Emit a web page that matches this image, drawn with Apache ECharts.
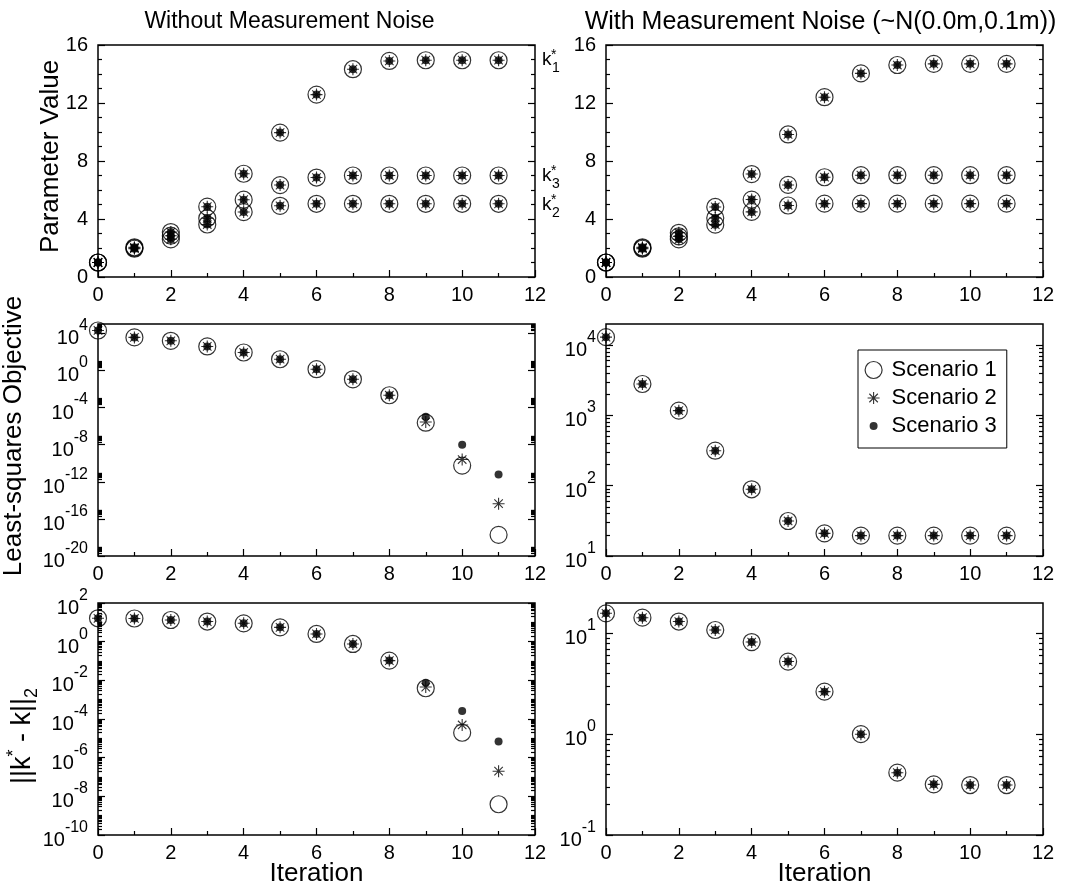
<!DOCTYPE html>
<html>
<head>
<meta charset="utf-8">
<script src="https://cdn.jsdelivr.net/npm/echarts@6/dist/echarts.min.js"></script>
<style>html,body{margin:0;padding:0;background:#fff}#main{width:1066px;height:886px}</style>
</head>
<body>
<div id="main"></div>
<script>
// ---------------- data ----------------
const iterations = [0, 1, 2, 3, 4, 5, 6, 7, 8, 9, 10, 11];
const scenarioNames = ['Scenario 1', 'Scenario 2', 'Scenario 3'];
const panelTitles = ['Without Measurement Noise', 'With Measurement Noise (~N(0.0m,0.1m))'];

// Parameter values (all scenarios overlap)
const k1Clean = [1.0, 2.05, 3.1, 4.85, 7.12, 9.96, 12.58, 14.33, 14.9, 14.95, 14.95, 14.95];
const k2Clean = [1.0, 1.95, 2.6, 3.62, 4.48, 4.91, 5.05, 5.05, 5.05, 5.05, 5.05, 5.05];
const k3Clean = [1.0, 2.0, 2.85, 4.05, 5.33, 6.34, 6.86, 7.0, 7.0, 7.0, 7.0, 7.0];
const k1Noisy = [1.0, 2.05, 3.05, 4.83, 7.1, 9.83, 12.4, 14.04, 14.62, 14.7, 14.7, 14.7];
const k2Noisy = [1.0, 1.95, 2.6, 3.61, 4.49, 4.93, 5.06, 5.06, 5.06, 5.06, 5.06, 5.06];
const k3Noisy = [1.0, 2.0, 2.8, 4.07, 5.34, 6.35, 6.88, 7.02, 7.02, 7.02, 7.02, 7.02];
const trueParams = [{sub: '1', value: 15}, {sub: '3', value: 7}, {sub: '2', value: 5}];

// Least-squares objective
const objCleanS1 = [2.0e4, 3.6e3, 1.55e3, 380, 85, 16, 1.35, 0.11, 2.1e-3, 2.3e-6, 5.5e-11, 1.9e-18];
const objCleanS2 = [2.0e4, 3.6e3, 1.55e3, 380, 85, 16, 1.35, 0.11, 2.1e-3, 2.8e-6, 2.5e-10, 4.3e-15];
const objCleanS3 = [2.0e4, 3.6e3, 1.55e3, 380, 85, 16, 1.35, 0.11, 2.1e-3, 1.0e-5, 1.0e-8, 5.9e-12];
const objNoisy = [1.3e4, 2.8e3, 1.17e3, 315, 89, 31.5, 21, 19.5, 19.5, 19.5, 19.5, 19.5];

// ||k* - k||_2
const errCleanS1 = [16.2, 15.8, 13.2, 11.0, 8.9, 5.5, 2.5, 0.76, 0.105, 3.9e-3, 1.95e-5, 3.9e-9];
const errCleanS2 = [16.2, 15.8, 13.2, 11.0, 8.9, 5.5, 2.5, 0.76, 0.105, 4.5e-3, 4.9e-5, 2.0e-7];
const errCleanS3 = [16.2, 15.8, 13.2, 11.0, 8.9, 5.5, 2.5, 0.76, 0.105, 7.6e-3, 2.6e-4, 6.8e-6];
const errNoisy = [15.8, 14.3, 13.1, 10.8, 8.2, 5.25, 2.64, 1.0, 0.415, 0.318, 0.313, 0.313];

// axis ticks
const iterTicks = [0, 2, 4, 6, 8, 10, 12];
const paramTicks = [0, 4, 8, 12, 16];
const objCleanRange = [1e-20, 1e5];
const objCleanTickExp = [-20, -16, -12, -8, -4, 0, 4];
const objNoisyRange = [10, 2e4];
const objNoisyTickExp = [1, 2, 3, 4];
const errCleanRange = [1e-10, 1e2];
const errCleanTickExp = [-10, -8, -6, -4, -2, 0, 2];
const errNoisyRange = [0.1, 20];
const errNoisyTickExp = [-1, 0, 1];

// ---------------- layout / style ----------------
const FONT = 'Liberation Sans, Arial, Helvetica, sans-serif';
const GW = 437, GH = 232;
const gridPos = [
  {left: 98, top: 45}, {left: 606, top: 45},
  {left: 98, top: 324}, {left: 606, top: 324},
  {left: 98, top: 603}, {left: 606, top: 603}
];
const STAR = 'path://M0,-6L0,6M-6,0L6,0M-4.24,-4.24L4.24,4.24M-4.24,4.24L4.24,-4.24';
const scenarioStyle = [
  {symbol: 'circle', symbolSize: 17, itemStyle: {color: 'rgba(0,0,0,0)', borderColor: '#000', borderWidth: 1.2}},
  {symbol: STAR, symbolSize: 12, itemStyle: {color: '#000', borderColor: '#000', borderWidth: 1.1}},
  {symbol: 'circle', symbolSize: 8, itemStyle: {color: '#000', borderWidth: 0}}
];
const tickStyle = {color: '#000', width: 1.2};
const MAJOR = 7, MINOR = 4;
const TICKFONT = 20;
const NAMEFONT = 26;

const xAxis = [], yAxis = [], series = [];

function addX(i, named) {
  xAxis.push({
    type: 'value', gridIndex: i, position: 'bottom',
    min: iterTicks[0], max: iterTicks[iterTicks.length - 1], interval: iterTicks[1] - iterTicks[0],
    axisLine: {show: false, onZero: false}, splitLine: {show: false},
    axisTick: {show: true, inside: true, length: MAJOR, lineStyle: tickStyle},
    minorTick: {show: true, splitNumber: 2, length: MINOR, lineStyle: tickStyle},
    axisLabel: {fontSize: TICKFONT, color: '#000', fontFamily: FONT, margin: 8},
    name: named ? 'Iteration' : '', nameLocation: 'middle', nameGap: 26, nameMoveOverlap: false,
    nameTextStyle: {fontSize: NAMEFONT, color: '#000', fontFamily: FONT}
  });
  return xAxis.length - 1;
}

function addLinY(i, name, nameGap, namePad) {
  const base = {
    type: 'value', gridIndex: i,
    min: paramTicks[0], max: paramTicks[paramTicks.length - 1], interval: paramTicks[1] - paramTicks[0],
    axisLine: {show: false, onZero: false}, splitLine: {show: false},
    axisTick: {show: true, inside: true, length: MAJOR, lineStyle: tickStyle},
    minorTick: {show: true, splitNumber: 4, length: MINOR, lineStyle: tickStyle}
  };
  yAxis.push(Object.assign({}, base, {
    position: 'left',
    axisLabel: {fontSize: TICKFONT, color: '#000', fontFamily: FONT, margin: 10},
    name: name || '', nameLocation: 'middle', nameGap: nameGap, nameMoveOverlap: false,
    nameTextStyle: {fontSize: NAMEFONT, color: '#000', fontFamily: FONT, padding: namePad || 0}
  }));
  const idx = yAxis.length - 1;
  yAxis.push(Object.assign({}, base, {position: 'right', axisLabel: {show: false}}));
  return idx;
}

const logRich = {
  b: {fontSize: TICKFONT, fontFamily: FONT, color: '#000', lineHeight: 31, verticalAlign: 'bottom'},
  s: {fontSize: 16, fontFamily: FONT, color: '#000', verticalAlign: 'top'}
};

function minorLogTicks(range, majors, allDecades) {
  const lo = Math.log10(range[0]), hi = Math.log10(range[1]);
  const out = [];
  for (let n = Math.floor(lo); n < Math.ceil(hi); n++) {
    const isMajor = majors.indexOf(n) >= 0;
    if (!allDecades && !isMajor) continue;
    for (let k = 1; k <= 9; k++) {
      if (k === 1 && isMajor) continue;
      const v = n + Math.log10(k);
      if (v > lo && v < hi) out.push(+v.toFixed(6));
    }
  }
  return out;
}

function addLogY(i, range, majors, allDecades, name, nameGap, nameStyle) {
  // data axis (native log scale)
  yAxis.push({type: 'log', logBase: 10, gridIndex: i, min: range[0], max: range[1], show: false});
  const dataIdx = yAxis.length - 1;
  const lo = Math.log10(range[0]), hi = Math.log10(range[1]);
  const step = majors[1] - majors[0];
  const minors = minorLogTicks(range, majors, allDecades);
  const deco = {
    type: 'value', gridIndex: i, min: lo, max: hi, interval: step,
    axisLine: {show: false, onZero: false}, splitLine: {show: false}
  };
  yAxis.push(Object.assign({}, deco, {
    position: 'left',
    axisTick: {show: true, inside: true, length: MAJOR, lineStyle: tickStyle, customValues: majors},
    axisLabel: {show: true, customValues: majors, margin: 10, showMinLabel: true, showMaxLabel: true,
      formatter: v => '{b|10}{s|' + Math.round(v) + '}', rich: logRich},
    name: name || '', nameLocation: 'middle', nameGap: nameGap, nameMoveOverlap: false,
    nameTextStyle: nameStyle || {}
  }));
  yAxis.push(Object.assign({}, deco, {
    position: 'right', axisLabel: {show: false},
    axisTick: {show: true, inside: true, length: MAJOR, lineStyle: tickStyle, customValues: majors}
  }));
  ['left', 'right'].forEach(pos => yAxis.push(Object.assign({}, deco, {
    position: pos, axisLabel: {show: false},
    axisTick: {show: true, inside: true, length: MINOR, lineStyle: tickStyle, customValues: minors}
  })));
  return dataIdx;
}

function addScatter(s, xi, yi, data) {
  series.push(Object.assign({
    type: 'scatter', name: scenarioNames[s], xAxisIndex: xi, yAxisIndex: yi, data: data,
    silent: true, emphasis: {disabled: true}, z: 3 + s
  }, scenarioStyle[s]));
}

function pairs(arrs) {
  const out = [];
  arrs.forEach(a => a.forEach((v, j) => out.push([iterations[j], v])));
  return out;
}

const nameStyle = {fontSize: NAMEFONT, color: '#000', fontFamily: FONT};

// Panel 0: parameters, clean
let xi = addX(0, false);
let yi = addLinY(0, 'Parameter Value', 34, [0, 0, 0, 9]);
for (let s = 0; s < 3; s++) addScatter(s, xi, yi, pairs([k1Clean, k2Clean, k3Clean]));
// Panel 1: parameters, noisy
xi = addX(1, false);
yi = addLinY(1, '', 0);
for (let s = 0; s < 3; s++) addScatter(s, xi, yi, pairs([k1Noisy, k2Noisy, k3Noisy]));
// Panel 2: objective, clean
xi = addX(2, false);
yi = addLogY(2, objCleanRange, objCleanTickExp, false, 'Least-squares Objective', 71,
  Object.assign({}, nameStyle, {padding: [0, 0, 0, 8]}));
[objCleanS1, objCleanS2, objCleanS3].forEach((arr, s) => addScatter(s, xi, yi, pairs([arr])));
// Panel 3: objective, noisy
xi = addX(3, false);
yi = addLogY(3, objNoisyRange, objNoisyTickExp, true, '', 0);
for (let s = 0; s < 3; s++) addScatter(s, xi, yi, pairs([objNoisy]));
// Panel 4: error, clean
xi = addX(4, true);
yi = addLogY(4, errCleanRange, errCleanTickExp, true, '{n|||k}{p|*}{n| - k||}{q|2}', 57,
  Object.assign({}, nameStyle, {padding: [0, 34, 0, 0], rich: {
    n: {fontSize: 27, fontFamily: FONT, color: '#000', lineHeight: 36, verticalAlign: 'middle'},
    p: {fontSize: 18, fontFamily: FONT, color: '#000', verticalAlign: 'top'},
    q: {fontSize: 18, fontFamily: FONT, color: '#000', verticalAlign: 'bottom'}
  }}));
[errCleanS1, errCleanS2, errCleanS3].forEach((arr, s) => addScatter(s, xi, yi, pairs([arr])));
// Panel 5: error, noisy
xi = addX(5, true);
yi = addLogY(5, errNoisyRange, errNoisyTickExp, true, '', 0);
for (let s = 0; s < 3; s++) addScatter(s, xi, yi, pairs([errNoisy]));

const legendBox = 'M-13,-8.5M13,8.5';
const option = {
  animation: false,
  backgroundColor: '#fff',
  textStyle: {fontFamily: FONT, color: '#000'},
  grid: gridPos.map(g => ({
    left: g.left, top: g.top, width: GW, height: GH, show: true,
    borderColor: '#000', borderWidth: 1.5, backgroundColor: 'rgba(0,0,0,0)',
    containLabel: false, outerBoundsMode: 'none'
  })),
  xAxis: xAxis,
  yAxis: yAxis,
  series: series,
  legend: {
    show: true, orient: 'vertical', left: 858, top: 350,
    itemWidth: 26, itemHeight: 17, itemGap: 6, padding: [9, 10, 11, 2],
    backgroundColor: '#fff', borderColor: '#000', borderWidth: 1, borderRadius: 0,
    selectedMode: false,
    textStyle: {fontSize: 22, color: '#000', fontFamily: FONT},
    data: [
      {name: scenarioNames[0], icon: 'path://' + legendBox + 'M8.5,0A8.5,8.5,0,1,1,-8.5,0A8.5,8.5,0,1,1,8.5,0Z',
        itemStyle: {color: 'rgba(0,0,0,0)', borderColor: '#000', borderWidth: 1.2}},
      {name: scenarioNames[1], icon: 'path://' + legendBox + 'M0,-6L0,6M-6,0L6,0M-4.24,-4.24L4.24,4.24M-4.24,4.24L4.24,-4.24',
        itemStyle: {color: '#000', borderColor: '#000', borderWidth: 1.1}},
      {name: scenarioNames[2], icon: 'path://' + legendBox + 'M4,0A4,4,0,1,1,-4,0A4,4,0,1,1,4,0Z',
        itemStyle: {color: '#000', borderColor: '#000', borderWidth: 0}}
    ]
  }
};

const chart = echarts.init(document.getElementById('main'), null, {renderer: 'canvas'});
chart.setOption(option);

// annotations: titles and true-parameter labels
function txt(x, y, text, size, align) {
  return {type: 'text', x: x, y: y, silent: true, z: 10,
    style: {text: text, fontSize: size, fontFamily: FONT, fill: '#000',
      align: align || 'left', textAlign: align || 'left', verticalAlign: 'middle', textVerticalAlign: 'middle'}};
}
const graphics = [
  txt(gridPos[0].left + GW / 2 - 27, 22, panelTitles[0], 23, 'center'),
  txt(gridPos[1].left + GW / 2 - 4, 22, panelTitles[1], 25, 'center')
];
trueParams.forEach(k => {
  const p = chart.convertToPixel({xAxisIndex: 0, yAxisIndex: 0}, [iterTicks[iterTicks.length - 1], k.value]);
  graphics.push(txt(p[0] + 7, p[1], 'k', 19));
  graphics.push(txt(p[0] + 16, p[1] - 4, '*', 14));
  graphics.push(txt(p[0] + 17, p[1] + 9, k.sub, 14));
});
chart.setOption({graphic: graphics});
</script>
</body>
</html>
